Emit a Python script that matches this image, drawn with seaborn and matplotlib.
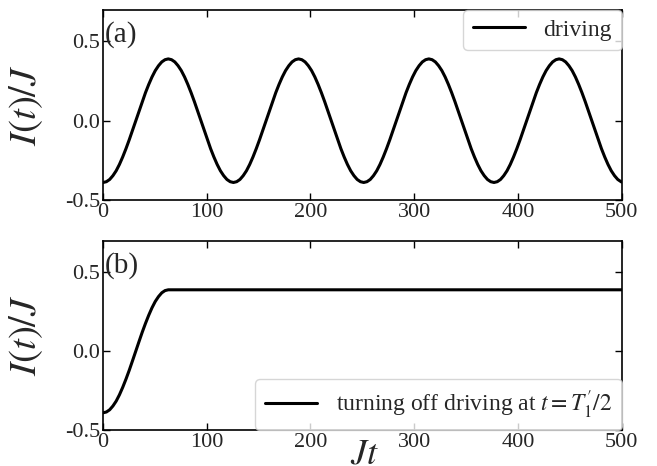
import numpy as np
import pandas as pd
import matplotlib
matplotlib.use("Agg")
import matplotlib.pyplot as plt
import seaborn as sns

# Current I(t)/J sampled every 3.1416 in Jt (40 samples per drive period)
driving_current = [
    -0.390, -0.385, -0.371, -0.347, -0.316, -0.276, -0.229, -0.177, -0.121, -0.061,
    0.000, 0.061, 0.121, 0.177, 0.229, 0.276, 0.316, 0.347, 0.371, 0.385,
    0.390, 0.385, 0.371, 0.347, 0.316, 0.276, 0.229, 0.177, 0.121, 0.061,
    0.000, -0.061, -0.121, -0.177, -0.229, -0.276, -0.316, -0.347, -0.371, -0.385,
    -0.390, -0.385, -0.371, -0.347, -0.316, -0.276, -0.229, -0.177, -0.121, -0.061,
    0.000, 0.061, 0.121, 0.177, 0.229, 0.276, 0.316, 0.347, 0.371, 0.385,
    0.390, 0.385, 0.371, 0.347, 0.316, 0.276, 0.229, 0.177, 0.121, 0.061,
    0.000, -0.061, -0.121, -0.177, -0.229, -0.276, -0.316, -0.347, -0.371, -0.385,
    -0.390, -0.385, -0.371, -0.347, -0.316, -0.276, -0.229, -0.177, -0.121, -0.061,
    0.000, 0.061, 0.121, 0.177, 0.229, 0.276, 0.316, 0.347, 0.371, 0.385,
    0.390, 0.385, 0.371, 0.347, 0.316, 0.276, 0.229, 0.177, 0.121, 0.061,
    0.000, -0.061, -0.121, -0.177, -0.229, -0.276, -0.316, -0.347, -0.371, -0.385,
    -0.390, -0.385, -0.371, -0.347, -0.316, -0.276, -0.229, -0.177, -0.121, -0.061,
    0.000, 0.061, 0.121, 0.177, 0.229, 0.276, 0.316, 0.347, 0.371, 0.385,
    0.390, 0.385, 0.371, 0.347, 0.316, 0.276, 0.229, 0.177, 0.121, 0.061,
    0.000, -0.061, -0.121, -0.177, -0.229, -0.276, -0.316, -0.347, -0.371, -0.385,
    -0.387,
]
jt_step = 3.1416
jt_driving = np.append(np.arange(160) * jt_step, 500.0)

# Driving switched off after half a period: current then stays at its peak
off_current = [
    -0.390, -0.385, -0.371, -0.347, -0.316, -0.276, -0.229, -0.177, -0.121, -0.061,
    0.000, 0.061, 0.121, 0.177, 0.229, 0.276, 0.316, 0.347, 0.371, 0.385,
    0.390, 0.390,
]
jt_off = np.append(np.arange(21) * jt_step, 500.0)

x_ticks = [0, 100, 200, 300, 400, 500]
y_ticks = [-0.5, 0.0, 0.5]
y_tick_labels = ["-0.5", "0.0", "0.5"]
panel_tags = ["(a)", "(b)"]
legend_labels = ["driving", r"turning off driving at $t=T_1'/2$"]

sns.set_style("ticks")
plt.rcParams["font.family"] = ["Liberation Serif", "DejaVu Serif"]
plt.rcParams["mathtext.fontset"] = "stix"
plt.rcParams["axes.unicode_minus"] = False

fig = plt.figure(figsize=(6.57, 4.66), dpi=100)
ax_a = fig.add_axes([0.157, 0.571, 0.789, 0.408])
ax_b = fig.add_axes([0.157, 0.077, 0.789, 0.406])

df_a = pd.DataFrame({"Jt": jt_driving, "I": driving_current})
df_b = pd.DataFrame({"Jt": jt_off, "I": off_current})

sns.lineplot(data=df_a, x="Jt", y="I", ax=ax_a, color="black", lw=2.2,
             estimator=None, label=legend_labels[0])
sns.lineplot(data=df_b, x="Jt", y="I", ax=ax_b, color="black", lw=2.2,
             estimator=None, label=legend_labels[1])

for ax, tag, loc in zip([ax_a, ax_b], panel_tags, ["upper right", "lower right"]):
    ax.set_xlim(0, 500)
    ax.set_ylim(-0.5, 0.7)
    ax.set_xticks(x_ticks)
    ax.set_xticklabels([str(v) for v in x_ticks])
    ax.set_yticks(y_ticks)
    ax.set_yticklabels(y_tick_labels)
    ax.tick_params(direction="in", top=True, right=True, labelsize=16,
                   length=5, width=1, pad=2, color="black")
    for sp in ax.spines.values():
        sp.set_linewidth(1.2)
        sp.set_color("black")
    ax.set_ylabel(r"$I(t)/J$", fontsize=28)
    ax.yaxis.set_label_coords(-0.112, 0.5)
    ax.set_xlabel("")
    ax.text(0.004, 0.94, tag, transform=ax.transAxes, ha="left", va="top",
            fontsize=21)
    ax.legend(loc=loc, fontsize=17, borderaxespad=0, handlelength=2.2,
              frameon=True, fancybox=True)

ax_b.set_xlabel(r"$Jt$", fontsize=26)
ax_b.xaxis.set_label_coords(0.504, -0.045)

fig.savefig("out.png", dpi=100)
